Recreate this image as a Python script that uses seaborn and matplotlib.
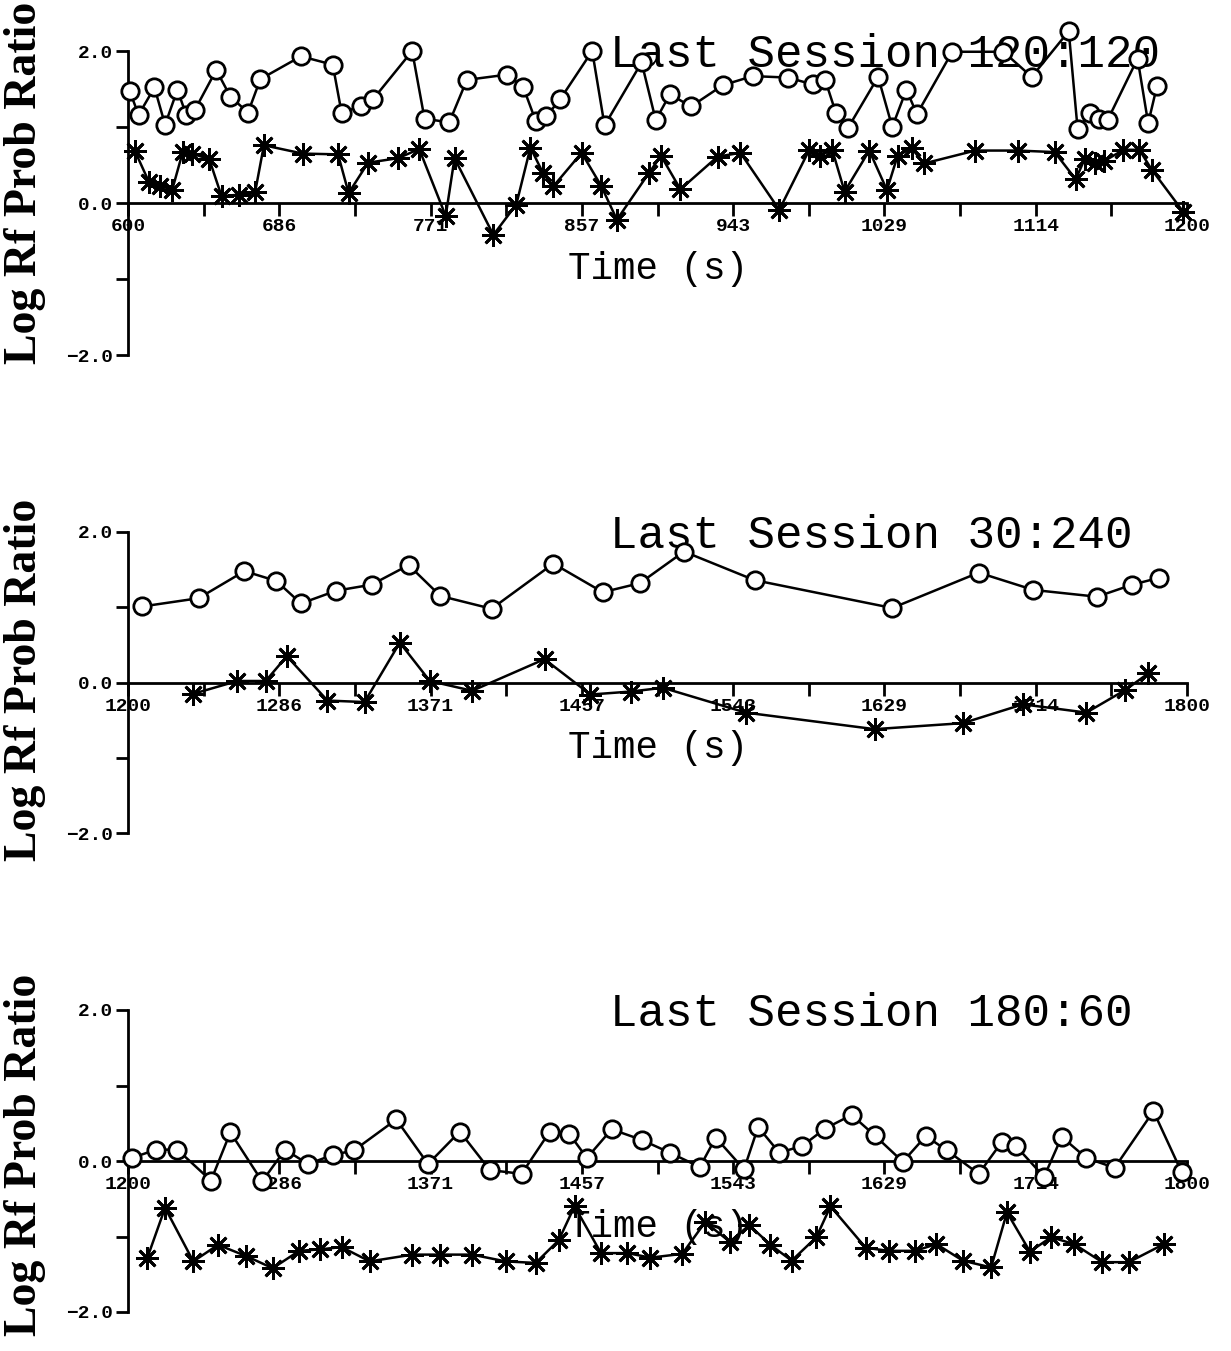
import numpy as np
import pandas as pd
import matplotlib
matplotlib.use("Agg")
import matplotlib.pyplot as plt
import seaborn as sns

sns.set_theme(style="white")
plt.rcParams['font.family'] = ['Liberation Mono', 'DejaVu Sans']

# ---------------- data ----------------
titles = ["Last Session 120:120", "Last Session 30:240", "Last Session 180:60"]
xstarts = [600, 1200, 1200]
xtick_labels = [["600", "686", "771", "857", "943", "1029", "1114", "1200"],
                ["1200", "1286", "1371", "1457", "1543", "1629", "1714", "1800"],
                ["1200", "1286", "1371", "1457", "1543", "1629", "1714", "1800"]]

c1_t = [601, 606, 615, 621, 628, 633, 638, 650, 658, 668, 675, 698, 716, 721, 732, 739, 761, 768, 782, 792,
        815, 824, 831, 837, 845, 863, 870, 891, 899, 907, 919, 937, 954, 974, 988, 995, 1001, 1008, 1025, 1033,
        1041, 1047, 1067, 1096, 1112, 1133, 1138, 1145, 1150, 1155, 1172, 1178, 1183]
c1_v = [1.47, 1.16, 1.52, 1.03, 1.49, 1.16, 1.23, 1.75, 1.40, 1.19, 1.63, 1.93, 1.82, 1.19, 1.27, 1.37, 2.00, 1.11, 1.06, 1.62,
        1.69, 1.52, 1.08, 1.14, 1.37, 2.00, 1.02, 1.85, 1.09, 1.43, 1.27, 1.55, 1.67, 1.65, 1.56, 1.62, 1.19, 0.99, 1.66, 1.00,
        1.49, 1.17, 1.99, 1.99, 1.66, 2.26, 0.98, 1.18, 1.11, 1.09, 1.90, 1.05, 1.54]
s1_t = [604, 612, 618, 625, 631, 636, 646, 653, 663, 672, 677, 699, 719, 725, 736, 753, 765, 780, 785, 807,
        820, 828, 835, 841, 857, 868, 877, 895, 902, 913, 934, 947, 969, 986, 992, 999, 1006, 1020, 1030, 1036,
        1044, 1051, 1080, 1104, 1125, 1137, 1142, 1148, 1153, 1164, 1173, 1180, 1198]
s1_v = [0.68, 0.27, 0.23, 0.17, 0.67, 0.65, 0.58, 0.09, 0.11, 0.14, 0.76, 0.65, 0.64, 0.13, 0.53, 0.59, 0.71, -0.17, 0.59, -0.42,
        -0.02, 0.73, 0.40, 0.22, 0.66, 0.23, -0.22, 0.39, 0.62, 0.18, 0.61, 0.66, -0.09, 0.70, 0.62, 0.70, 0.15, 0.69, 0.17, 0.62,
        0.72, 0.52, 0.69, 0.69, 0.67, 0.31, 0.58, 0.52, 0.55, 0.70, 0.70, 0.44, -0.12]

c2_t = [1208, 1240, 1266, 1284, 1298, 1318, 1338, 1359, 1377, 1406, 1441, 1469, 1490, 1515, 1555, 1633, 1682, 1713, 1749, 1769, 1784]
c2_v = [1.01, 1.12, 1.48, 1.35, 1.05, 1.22, 1.30, 1.56, 1.15, 0.98, 1.58, 1.20, 1.32, 1.74, 1.36, 0.99, 1.46, 1.23, 1.14, 1.30, 1.39]
s2_t = [1237, 1262, 1278, 1290, 1313, 1334, 1354, 1371, 1395, 1436, 1462, 1485, 1503, 1550, 1623, 1673, 1707, 1743, 1765, 1778]
s2_v = [-0.15, 0.02, 0.02, 0.35, -0.24, -0.26, 0.53, 0.02, -0.11, 0.31, -0.16, -0.12, -0.07, -0.40, -0.62, -0.54, -0.29, -0.40, -0.10, 0.12]

c3_t = [1202, 1216, 1228, 1247, 1258, 1276, 1289, 1302, 1316, 1328, 1352, 1370, 1388, 1405, 1423, 1439, 1450, 1460, 1474, 1491,
        1507, 1524, 1533, 1549, 1557, 1569, 1582, 1595, 1610, 1623, 1639, 1652, 1664, 1682, 1695, 1703, 1719, 1729, 1743, 1759,
        1781, 1797]
c3_v = [0.04, 0.15, 0.15, -0.26, 0.38, -0.27, 0.15, -0.04, 0.08, 0.14, 0.55, -0.04, 0.39, -0.12, -0.17, 0.39, 0.36, 0.04, 0.42, 0.28,
        0.11, -0.08, 0.31, -0.11, 0.45, 0.11, 0.20, 0.43, 0.61, 0.34, -0.01, 0.33, 0.14, -0.17, 0.25, 0.20, -0.21, 0.32, 0.04, -0.09,
        0.66, -0.15]
s3_t = [1211, 1221, 1237, 1251, 1267, 1282, 1297, 1309, 1321, 1337, 1361, 1377, 1395, 1414, 1431, 1444, 1453, 1468, 1483, 1496,
        1514, 1527, 1541, 1552, 1564, 1576, 1590, 1598, 1618, 1631, 1646, 1658, 1673, 1689, 1698, 1711, 1723, 1736, 1752, 1767,
        1787]
s3_v = [-1.28, -0.62, -1.33, -1.11, -1.26, -1.42, -1.19, -1.17, -1.14, -1.33, -1.24, -1.24, -1.24, -1.33, -1.35, -1.05, -0.60, -1.22, -1.22, -1.28,
        -1.23, -0.81, -1.07, -0.85, -1.11, -1.32, -1.01, -0.60, -1.15, -1.19, -1.19, -1.10, -1.32, -1.41, -0.68, -1.20, -1.01, -1.10, -1.34, -1.34,
        -1.10]

circles = [(c1_t, c1_v), (c2_t, c2_v), (c3_t, c3_v)]
stars = [(s1_t, s1_v), (s2_t, s2_v), (s3_t, s3_v)]

# ---------------- figure ----------------
W, H = 1231, 1351
fig = plt.figure(figsize=(W / 100, H / 100), dpi=100)
fig.patch.set_facecolor("white")

ax_left = 128 / W
ax_width = (1187 - 128) / W
tops = [51, 532, 1010]
bots = [355, 833, 1312]
ylab_centers = [183, 680, 1155]

serif = ['Liberation Serif', 'DejaVu Serif']
mono = ['Liberation Mono', 'DejaVu Sans Mono']

for i in range(3):
    top, bot = tops[i], bots[i]
    ax = fig.add_axes([ax_left, 1 - bot / H, ax_width, (bot - top) / H])
    ax.set_facecolor("none")
    x0 = xstarts[i]
    ax.set_xlim(x0, x0 + 600)
    ax.set_ylim(-2, 2)

    ct, cv = circles[i]
    st, sv = stars[i]
    dfc = pd.DataFrame({"t": ct, "v": cv})
    dfs = pd.DataFrame({"t": st, "v": sv})
    sns.lineplot(data=dfc, x="t", y="v", ax=ax, sort=False, estimator=None,
                 color="black", lw=1.8, marker="o", markersize=12.5,
                 markerfacecolor="white", markeredgecolor="black", markeredgewidth=2.0,
                 zorder=3, clip_on=False)
    sns.lineplot(data=dfs, x="t", y="v", ax=ax, sort=False, estimator=None,
                 color="black", lw=1.8, marker=(8, 2, 0), markersize=16,
                 markeredgecolor="black", markeredgewidth=2.0, zorder=3, clip_on=False)

    # spines
    for s in ["top", "right"]:
        ax.spines[s].set_visible(False)
    ax.spines["bottom"].set_position(("data", 0))
    ax.spines["left"].set_linewidth(2)
    ax.spines["bottom"].set_linewidth(2)
    ax.spines["left"].set_color("black")
    ax.spines["bottom"].set_color("black")

    xt = [x0 + k * 600 / 14 for k in range(15)]
    ax.set_xticks(xt)
    labs = []
    for k in range(15):
        labs.append(xtick_labels[i][k // 2] if k % 2 == 0 else "")
    ax.set_xticklabels(labs, fontsize=14, fontweight="bold", family=mono)
    ax.set_yticks([-2, -1, 0, 1, 2])
    ax.set_yticklabels(["\u22122.0", "", "0.0", "", "2.0"], fontsize=14, fontweight="bold", family=mono)
    ax.tick_params(axis="both", direction="out", length=9, width=2, color="black",
                   bottom=True, left=True, labelcolor="black")
    ax.tick_params(axis="x", pad=2)
    ax.tick_params(axis="y", pad=2)
    ax.set_xlabel("")
    ax.set_ylabel("")
    ax.grid(False)

    ax.text(x0 + 600 * 0.455, 1.95, titles[i], fontsize=33, va="center", ha="left",
            color="black", zorder=1, family=mono)
    ax.text(x0 + 300, -0.87, "Time (s)", fontsize=27, va="center", ha="center",
            color="black", zorder=1, family=mono)

    fig.text(25 / W, 1 - ylab_centers[i] / H, "Log Rf Prob Ratio", rotation=90,
             fontsize=33, fontweight="bold", family=serif, va="center", ha="center", color="black")

fig.savefig("out.png", dpi=100, facecolor="white")
